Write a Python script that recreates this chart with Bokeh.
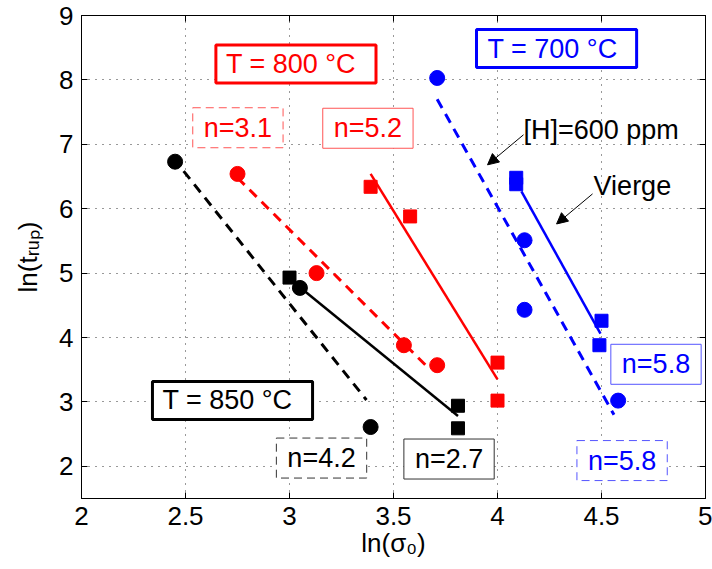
from bokeh.plotting import figure
from bokeh.models import Label, Arrow, NormalHead, LinearAxis, FixedTicker, Range1d
from bokeh.embed import file_html
from bokeh.resources import INLINE

# ---------------- data ----------------
x_ticks = [2, 2.5, 3, 3.5, 4, 4.5, 5]
x_tick_labels = ["2", "2.5", "3", "3.5", "4", "4.5", "5"]
y_ticks = [2, 3, 4, 5, 6, 7, 8, 9]
y_tick_labels = ["2", "3", "4", "5", "6", "7", "8", "9"]

# T = 850 °C (black)
black_circ_x = [2.45, 3.05, 3.39]
black_circ_y = [6.73, 4.77, 2.61]
black_sq_x = [3.00, 3.81, 3.81]
black_sq_y = [4.93, 2.94, 2.59]
black_dash_x = [2.44, 3.37]
black_dash_y = [6.79, 3.03]
black_solid_x = [3.05, 3.81]
black_solid_y = [4.78, 2.78]

# T = 800 °C (red)
red_circ_x = [2.75, 3.13, 3.55, 3.71]
red_circ_y = [6.54, 5.00, 3.88, 3.57]
red_sq_x = [3.39, 3.58, 4.00, 4.00]
red_sq_y = [6.34, 5.88, 3.61, 3.02]
red_dash_x = [2.75, 3.67]
red_dash_y = [6.48, 3.52]
red_solid_x = [3.39, 4.00]
red_solid_y = [6.54, 3.35]

# T = 700 °C (blue)
blue_circ_x = [3.71, 4.13, 4.13, 4.58]
blue_circ_y = [8.03, 5.51, 4.43, 3.02]
blue_sq_x = [4.09, 4.09, 4.50, 4.49]
blue_sq_y = [6.48, 6.38, 4.26, 3.88]
blue_dash_x = [3.71, 4.56]
blue_dash_y = [7.70, 2.80]
blue_solid_x = [4.115, 4.495]
blue_solid_y = [6.27, 4.06]

FONT = "Liberation Sans"
TICK_FS = "26px"
FS = "27px"
RED = "#ff0000"
BLUE = "#0000ff"
BLACK = "#000000"

p = figure(width=712, height=560, output_backend="svg", toolbar_location=None,
           x_range=Range1d(2, 5), y_range=Range1d(1.5, 9),
           min_border_left=81, min_border_right=7, min_border_top=15, min_border_bottom=10)
p.background_fill_color = "white"
p.border_fill_color = "white"
p.outline_line_color = "black"
p.outline_line_width = 1

# axes
for ax, ticks, labels in ((p.xaxis[0], x_ticks, x_tick_labels), (p.yaxis[0], y_ticks, y_tick_labels)):
    ax.ticker = FixedTicker(ticks=ticks)
    ax.major_label_overrides = {float(t): l for t, l in zip(ticks, labels)}
    ax.major_tick_in = 6
    ax.major_tick_out = 0
    ax.minor_tick_line_color = None
    ax.major_label_text_font = FONT
    ax.major_label_text_font_size = TICK_FS
    ax.major_label_text_color = "black"
    ax.axis_label_text_font = FONT
    ax.axis_label_text_font_size = TICK_FS
    ax.axis_label_text_font_style = "normal"
    ax.axis_label_text_color = "black"
    ax.axis_line_color = "black"
    ax.major_tick_line_color = "black"
    ax.major_label_standoff = 8

p.xaxis[0].axis_label = "ln(σ₀)"
p.xaxis[0].axis_label_standoff = 0
p.yaxis[0].axis_label = "ln(tᵣᵤₚ)"
p.yaxis[0].axis_label_standoff = 13

for loc, ticks in (("above", x_ticks), ("right", y_ticks)):
    ax = LinearAxis(ticker=FixedTicker(ticks=ticks), major_tick_in=6, major_tick_out=0,
                    minor_tick_line_color=None,
                    major_label_overrides={float(t): "" for t in ticks},
                    major_label_standoff=0, axis_line_color="black",
                    major_tick_line_color="black")
    p.add_layout(ax, loc)

p.grid.grid_line_color = "#333333"
p.grid.grid_line_dash = "1 6"
p.grid.grid_line_width = 1
p.xgrid.ticker = FixedTicker(ticks=x_ticks)
p.ygrid.ticker = FixedTicker(ticks=y_ticks)

# fit lines
p.line(black_dash_x, black_dash_y, line_color=BLACK, line_width=3, line_dash="10 7")
p.line(black_solid_x, black_solid_y, line_color=BLACK, line_width=2.5)
p.line(red_dash_x, red_dash_y, line_color=RED, line_width=3, line_dash="10 7")
p.line(red_solid_x, red_solid_y, line_color=RED, line_width=2.5)
p.line(blue_dash_x, blue_dash_y, line_color=BLUE, line_width=3, line_dash="10 7")
p.line(blue_solid_x, blue_solid_y, line_color=BLUE, line_width=2.5)

# markers
for cx, cy, sx, sy, col in ((black_circ_x, black_circ_y, black_sq_x, black_sq_y, BLACK),
                            (red_circ_x, red_circ_y, red_sq_x, red_sq_y, RED),
                            (blue_circ_x, blue_circ_y, blue_sq_x, blue_sq_y, BLUE)):
    p.scatter(cx, cy, marker="circle", size=15, fill_color=col, line_color=col)
    p.scatter(sx, sy, marker="square", size=13, fill_color=col, line_color=col)


# padding is (left, right, top, bottom)
def box(text, x, y, color, border, width, dash="solid", pad=(11, 11, 5, 5)):
    lab = Label(x=x, y=y, text=text, text_font=FONT, text_font_size=FS,
                text_color=color, text_align="center", text_baseline="middle",
                background_fill_color="white",
                border_line_color=border, border_line_width=width, border_line_dash=dash,
                padding=pad)
    p.add_layout(lab)


box("T = 800 °C", 3.031, 8.245, RED, RED, 3, pad=(10, 20, 4, 4))
box("T = 700 °C", 4.284, 8.486, BLUE, BLUE, 3, pad=(11, 19, 4, 4))
box("T = 850 °C", 2.726, 3.023, BLACK, BLACK, 3, pad=(10, 20, 4, 4))
box("n=3.1", 2.752, 7.257, RED, "#ff5555", 1, dash="8 5")
box("n=5.2", 3.377, 7.249, RED, "#ff5555", 1)
box("n=5.8", 4.762, 3.584, BLUE, "#5555ff", 1)
box("n=5.8", 4.599, 2.089, BLUE, "#5555ff", 1, dash="8 5")
box("n=2.7", 3.767, 2.113, BLACK, "#333333", 1)
box("n=4.2", 3.154, 2.128, BLACK, "#333333", 1, dash="8 5")

p.add_layout(Label(x=4.125, y=7.226, text="[H]=600 ppm", text_font=FONT, text_font_size=FS,
                   text_color="black", text_align="left", text_baseline="alphabetic"))
p.add_layout(Label(x=4.462, y=6.354, text="Vierge", text_font=FONT, text_font_size=FS,
                   text_color="black", text_align="left", text_baseline="alphabetic"))

p.add_layout(Arrow(x_start=4.125, y_start=7.148, x_end=3.952, y_end=6.681,
                   line_color="black", line_width=1,
                   end=NormalHead(size=11, fill_color="black", line_color="black")))
p.add_layout(Arrow(x_start=4.457, y_start=6.230, x_end=4.284, y_end=5.763,
                   line_color="black", line_width=1,
                   end=NormalHead(size=11, fill_color="black", line_color="black")))

open("out.html", "w").write(file_html(p, INLINE))
